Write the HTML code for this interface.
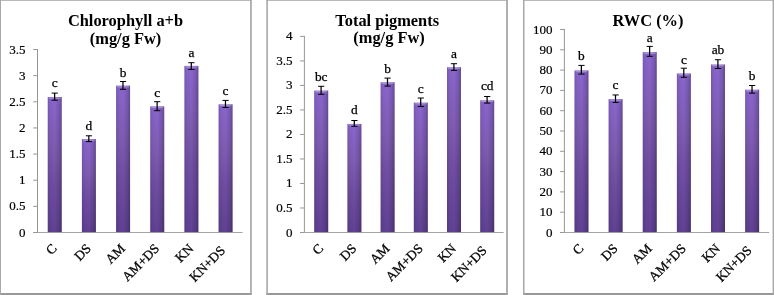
<!DOCTYPE html>
<html><head><meta charset="utf-8"><title>Charts</title>
<style>html,body{margin:0;padding:0;background:#fff}body{width:774px;height:295px;overflow:hidden}</style></head>
<body>
<svg width="774" height="295" viewBox="0 0 774 295" style="display:block">
<defs>
<linearGradient id="bv" x1="0" y1="0" x2="0" y2="1">
<stop offset="0" stop-color="#8a66ce"/>
<stop offset="0.37" stop-color="#7e5cb2"/>
<stop offset="0.6" stop-color="#714fa4"/>
<stop offset="1" stop-color="#604193"/>
</linearGradient>
<linearGradient id="bh" x1="0" y1="0" x2="1" y2="0">
<stop offset="0" stop-color="#000" stop-opacity="0.13"/>
<stop offset="0.2" stop-color="#000" stop-opacity="0.04"/>
<stop offset="0.5" stop-color="#000" stop-opacity="0"/>
<stop offset="0.8" stop-color="#000" stop-opacity="0.12"/>
<stop offset="1" stop-color="#000" stop-opacity="0.27"/>
</linearGradient>
</defs>
<rect width="774" height="295" fill="#fff"/>
<path d="M0 0H251.8V295H0Z" fill="#fff"/>
<rect x="0" y="0" width="251.80" height="0.9" fill="#b2b2b2"/>
<rect x="0" y="293" width="251.80" height="2" fill="#989898"/>
<rect x="0" y="0" width="1.00" height="295" fill="#a8a8a8"/>
<rect x="250.1" y="0" width="1.70" height="295" fill="#a8a8a8"/>
<text x="125.5" y="25.6" text-anchor="middle" font-family="Liberation Serif, serif" font-weight="bold" font-size="16.4" fill="#000">Chlorophyll a+b</text>
<text x="125.5" y="44.1" text-anchor="middle" font-family="Liberation Serif, serif" font-weight="bold" font-size="16.4" fill="#000">(mg/g Fw)</text>
<path d="M37.5 49.0V233.0" fill="none" stroke="#969696" stroke-width="1"/>
<path d="M33.2 232.5H242.5" fill="none" stroke="#a4a4a4" stroke-width="1"/>
<path d="M33.2 232.50H37.5" stroke="#969696" stroke-width="1"/>
<text x="25.6" y="236.50" text-anchor="end" font-family="Liberation Serif, serif" font-size="13.0" stroke="#000" stroke-width="0.2" fill="#000">0</text>
<path d="M33.2 206.36H37.5" stroke="#969696" stroke-width="1"/>
<text x="25.6" y="210.36" text-anchor="end" font-family="Liberation Serif, serif" font-size="13.0" stroke="#000" stroke-width="0.2" fill="#000">0.5</text>
<path d="M33.2 180.21H37.5" stroke="#969696" stroke-width="1"/>
<text x="25.6" y="184.21" text-anchor="end" font-family="Liberation Serif, serif" font-size="13.0" stroke="#000" stroke-width="0.2" fill="#000">1</text>
<path d="M33.2 154.07H37.5" stroke="#969696" stroke-width="1"/>
<text x="25.6" y="158.07" text-anchor="end" font-family="Liberation Serif, serif" font-size="13.0" stroke="#000" stroke-width="0.2" fill="#000">1.5</text>
<path d="M33.2 127.93H37.5" stroke="#969696" stroke-width="1"/>
<text x="25.6" y="131.93" text-anchor="end" font-family="Liberation Serif, serif" font-size="13.0" stroke="#000" stroke-width="0.2" fill="#000">2</text>
<path d="M33.2 101.79H37.5" stroke="#969696" stroke-width="1"/>
<text x="25.6" y="105.79" text-anchor="end" font-family="Liberation Serif, serif" font-size="13.0" stroke="#000" stroke-width="0.2" fill="#000">2.5</text>
<path d="M33.2 75.64H37.5" stroke="#969696" stroke-width="1"/>
<text x="25.6" y="79.64" text-anchor="end" font-family="Liberation Serif, serif" font-size="13.0" stroke="#000" stroke-width="0.2" fill="#000">3</text>
<path d="M33.2 49.50H37.5" stroke="#969696" stroke-width="1"/>
<text x="25.6" y="53.50" text-anchor="end" font-family="Liberation Serif, serif" font-size="13.0" stroke="#000" stroke-width="0.2" fill="#000">3.5</text>
<rect x="47.73" y="97.01" width="14.00" height="135.09" fill="url(#bv)"/>
<rect x="47.73" y="97.01" width="14.00" height="135.09" fill="url(#bh)"/>
<rect x="48.73" y="97.31" width="12.00" height="1.5" fill="#fff" fill-opacity="0.28"/>
<path d="M51.63 93.10h6.2M51.63 100.20h6.2" stroke="#000" stroke-width="1" fill="none"/>
<path d="M54.63 93.10V100.20" stroke="#000" stroke-width="1.25" fill="none"/>
<text x="54.73" y="87.45" text-anchor="middle" font-family="Liberation Serif, serif" font-size="13.4" stroke="#000" stroke-width="0.25" fill="#000">c</text>
<text transform="translate(57.63 249.30) rotate(-45)" text-anchor="end" font-family="Liberation Serif, serif" font-size="13.4" stroke="#000" stroke-width="0.3" fill="#000">C</text>
<rect x="81.90" y="139.10" width="14.00" height="93.00" fill="url(#bv)"/>
<rect x="81.90" y="139.10" width="14.00" height="93.00" fill="url(#bh)"/>
<rect x="82.90" y="139.40" width="12.00" height="1.5" fill="#fff" fill-opacity="0.28"/>
<path d="M85.80 135.80h6.2M85.80 141.60h6.2" stroke="#000" stroke-width="1" fill="none"/>
<path d="M88.80 135.80V141.60" stroke="#000" stroke-width="1.25" fill="none"/>
<text x="88.90" y="129.95" text-anchor="middle" font-family="Liberation Serif, serif" font-size="13.4" stroke="#000" stroke-width="0.25" fill="#000">d</text>
<text transform="translate(91.80 249.30) rotate(-45)" text-anchor="end" font-family="Liberation Serif, serif" font-size="13.4" stroke="#000" stroke-width="0.3" fill="#000">DS</text>
<rect x="116.07" y="85.62" width="14.00" height="146.48" fill="url(#bv)"/>
<rect x="116.07" y="85.62" width="14.00" height="146.48" fill="url(#bh)"/>
<rect x="117.07" y="85.92" width="12.00" height="1.5" fill="#fff" fill-opacity="0.28"/>
<path d="M119.97 81.50h6.2M119.97 89.30h6.2" stroke="#000" stroke-width="1" fill="none"/>
<path d="M122.97 81.50V89.30" stroke="#000" stroke-width="1.25" fill="none"/>
<text x="123.07" y="76.50" text-anchor="middle" font-family="Liberation Serif, serif" font-size="13.4" stroke="#000" stroke-width="0.25" fill="#000">b</text>
<text transform="translate(125.97 249.30) rotate(-45)" text-anchor="end" font-family="Liberation Serif, serif" font-size="13.4" stroke="#000" stroke-width="0.3" fill="#000">AM</text>
<rect x="150.23" y="106.37" width="14.00" height="125.73" fill="url(#bv)"/>
<rect x="150.23" y="106.37" width="14.00" height="125.73" fill="url(#bh)"/>
<rect x="151.23" y="106.67" width="12.00" height="1.5" fill="#fff" fill-opacity="0.28"/>
<path d="M154.13 101.70h6.2M154.13 110.70h6.2" stroke="#000" stroke-width="1" fill="none"/>
<path d="M157.13 101.70V110.70" stroke="#000" stroke-width="1.25" fill="none"/>
<text x="157.23" y="97.40" text-anchor="middle" font-family="Liberation Serif, serif" font-size="13.4" stroke="#000" stroke-width="0.25" fill="#000">c</text>
<text transform="translate(160.13 249.30) rotate(-45)" text-anchor="end" font-family="Liberation Serif, serif" font-size="13.4" stroke="#000" stroke-width="0.3" fill="#000">AM+DS</text>
<rect x="184.40" y="65.90" width="14.00" height="166.20" fill="url(#bv)"/>
<rect x="184.40" y="65.90" width="14.00" height="166.20" fill="url(#bh)"/>
<rect x="185.40" y="66.20" width="12.00" height="1.5" fill="#fff" fill-opacity="0.28"/>
<path d="M188.30 62.70h6.2M188.30 69.50h6.2" stroke="#000" stroke-width="1" fill="none"/>
<path d="M191.30 62.70V69.50" stroke="#000" stroke-width="1.25" fill="none"/>
<text x="191.40" y="56.75" text-anchor="middle" font-family="Liberation Serif, serif" font-size="13.4" stroke="#000" stroke-width="0.25" fill="#000">a</text>
<text transform="translate(194.30 249.30) rotate(-45)" text-anchor="end" font-family="Liberation Serif, serif" font-size="13.4" stroke="#000" stroke-width="0.3" fill="#000">KN</text>
<rect x="218.57" y="104.33" width="14.00" height="127.77" fill="url(#bv)"/>
<rect x="218.57" y="104.33" width="14.00" height="127.77" fill="url(#bh)"/>
<rect x="219.57" y="104.63" width="12.00" height="1.5" fill="#fff" fill-opacity="0.28"/>
<path d="M222.47 100.40h6.2M222.47 107.50h6.2" stroke="#000" stroke-width="1" fill="none"/>
<path d="M225.47 100.40V107.50" stroke="#000" stroke-width="1.25" fill="none"/>
<text x="225.57" y="95.40" text-anchor="middle" font-family="Liberation Serif, serif" font-size="13.4" stroke="#000" stroke-width="0.25" fill="#000">c</text>
<text transform="translate(225.97 251.30) rotate(-45)" text-anchor="end" font-family="Liberation Serif, serif" font-size="13.4" stroke="#000" stroke-width="0.3" fill="#000">KN+DS</text>
<path d="M266.3 0H507.9V295H266.3Z" fill="#fff"/>
<rect x="266.3" y="0" width="241.60" height="0.9" fill="#b2b2b2"/>
<rect x="266.3" y="293" width="241.60" height="2" fill="#989898"/>
<rect x="266.3" y="0" width="1.60" height="295" fill="#a8a8a8"/>
<rect x="506.1" y="0" width="1.80" height="295" fill="#a8a8a8"/>
<text x="387.2" y="25.9" text-anchor="middle" font-family="Liberation Serif, serif" font-weight="bold" font-size="16.4" fill="#000">Total pigments</text>
<text x="389" y="43.4" text-anchor="middle" font-family="Liberation Serif, serif" font-weight="bold" font-size="16.4" fill="#000">(mg/g Fw)</text>
<path d="M304.4 35.9V233.0" fill="none" stroke="#969696" stroke-width="1"/>
<path d="M300.09999999999997 232.5H503.6" fill="none" stroke="#a4a4a4" stroke-width="1"/>
<path d="M300.09999999999997 232.50H304.4" stroke="#969696" stroke-width="1"/>
<text x="292.5" y="236.50" text-anchor="end" font-family="Liberation Serif, serif" font-size="13.0" stroke="#000" stroke-width="0.2" fill="#000">0</text>
<path d="M300.09999999999997 207.99H304.4" stroke="#969696" stroke-width="1"/>
<text x="292.5" y="211.99" text-anchor="end" font-family="Liberation Serif, serif" font-size="13.0" stroke="#000" stroke-width="0.2" fill="#000">0.5</text>
<path d="M300.09999999999997 183.47H304.4" stroke="#969696" stroke-width="1"/>
<text x="292.5" y="187.47" text-anchor="end" font-family="Liberation Serif, serif" font-size="13.0" stroke="#000" stroke-width="0.2" fill="#000">1</text>
<path d="M300.09999999999997 158.96H304.4" stroke="#969696" stroke-width="1"/>
<text x="292.5" y="162.96" text-anchor="end" font-family="Liberation Serif, serif" font-size="13.0" stroke="#000" stroke-width="0.2" fill="#000">1.5</text>
<path d="M300.09999999999997 134.45H304.4" stroke="#969696" stroke-width="1"/>
<text x="292.5" y="138.45" text-anchor="end" font-family="Liberation Serif, serif" font-size="13.0" stroke="#000" stroke-width="0.2" fill="#000">2</text>
<path d="M300.09999999999997 109.94H304.4" stroke="#969696" stroke-width="1"/>
<text x="292.5" y="113.94" text-anchor="end" font-family="Liberation Serif, serif" font-size="13.0" stroke="#000" stroke-width="0.2" fill="#000">2.5</text>
<path d="M300.09999999999997 85.43H304.4" stroke="#969696" stroke-width="1"/>
<text x="292.5" y="89.43" text-anchor="end" font-family="Liberation Serif, serif" font-size="13.0" stroke="#000" stroke-width="0.2" fill="#000">3</text>
<path d="M300.09999999999997 60.91H304.4" stroke="#969696" stroke-width="1"/>
<text x="292.5" y="64.91" text-anchor="end" font-family="Liberation Serif, serif" font-size="13.0" stroke="#000" stroke-width="0.2" fill="#000">3.5</text>
<path d="M300.09999999999997 36.40H304.4" stroke="#969696" stroke-width="1"/>
<text x="292.5" y="40.40" text-anchor="end" font-family="Liberation Serif, serif" font-size="13.0" stroke="#000" stroke-width="0.2" fill="#000">4</text>
<rect x="314.20" y="90.58" width="14.00" height="141.52" fill="url(#bv)"/>
<rect x="314.20" y="90.58" width="14.00" height="141.52" fill="url(#bh)"/>
<rect x="315.20" y="90.88" width="12.00" height="1.5" fill="#fff" fill-opacity="0.28"/>
<path d="M318.10 86.30h6.2M318.10 94.30h6.2" stroke="#000" stroke-width="1" fill="none"/>
<path d="M321.10 86.30V94.30" stroke="#000" stroke-width="1.25" fill="none"/>
<text x="321.20" y="81.30" text-anchor="middle" font-family="Liberation Serif, serif" font-size="13.4" stroke="#000" stroke-width="0.25" fill="#000">bc</text>
<text transform="translate(324.10 249.30) rotate(-45)" text-anchor="end" font-family="Liberation Serif, serif" font-size="13.4" stroke="#000" stroke-width="0.3" fill="#000">C</text>
<rect x="347.40" y="123.92" width="14.00" height="108.18" fill="url(#bv)"/>
<rect x="347.40" y="123.92" width="14.00" height="108.18" fill="url(#bh)"/>
<rect x="348.40" y="124.22" width="12.00" height="1.5" fill="#fff" fill-opacity="0.28"/>
<path d="M351.30 120.50h6.2M351.30 126.30h6.2" stroke="#000" stroke-width="1" fill="none"/>
<path d="M354.30 120.50V126.30" stroke="#000" stroke-width="1.25" fill="none"/>
<text x="354.40" y="114.20" text-anchor="middle" font-family="Liberation Serif, serif" font-size="13.4" stroke="#000" stroke-width="0.25" fill="#000">d</text>
<text transform="translate(357.30 249.30) rotate(-45)" text-anchor="end" font-family="Liberation Serif, serif" font-size="13.4" stroke="#000" stroke-width="0.3" fill="#000">DS</text>
<rect x="380.60" y="82.29" width="14.00" height="149.81" fill="url(#bv)"/>
<rect x="380.60" y="82.29" width="14.00" height="149.81" fill="url(#bh)"/>
<rect x="381.60" y="82.59" width="12.00" height="1.5" fill="#fff" fill-opacity="0.28"/>
<path d="M384.50 78.10h6.2M384.50 86.10h6.2" stroke="#000" stroke-width="1" fill="none"/>
<path d="M387.50 78.10V86.10" stroke="#000" stroke-width="1.25" fill="none"/>
<text x="387.60" y="73.10" text-anchor="middle" font-family="Liberation Serif, serif" font-size="13.4" stroke="#000" stroke-width="0.25" fill="#000">b</text>
<text transform="translate(390.50 249.30) rotate(-45)" text-anchor="end" font-family="Liberation Serif, serif" font-size="13.4" stroke="#000" stroke-width="0.3" fill="#000">AM</text>
<rect x="413.80" y="102.64" width="14.00" height="129.46" fill="url(#bv)"/>
<rect x="413.80" y="102.64" width="14.00" height="129.46" fill="url(#bh)"/>
<rect x="414.80" y="102.94" width="12.00" height="1.5" fill="#fff" fill-opacity="0.28"/>
<path d="M417.70 98.00h6.2M417.70 106.55h6.2" stroke="#000" stroke-width="1" fill="none"/>
<path d="M420.70 98.00V106.55" stroke="#000" stroke-width="1.25" fill="none"/>
<text x="420.80" y="93.10" text-anchor="middle" font-family="Liberation Serif, serif" font-size="13.4" stroke="#000" stroke-width="0.25" fill="#000">c</text>
<text transform="translate(423.70 249.30) rotate(-45)" text-anchor="end" font-family="Liberation Serif, serif" font-size="13.4" stroke="#000" stroke-width="0.3" fill="#000">AM+DS</text>
<rect x="447.00" y="67.24" width="14.00" height="164.86" fill="url(#bv)"/>
<rect x="447.00" y="67.24" width="14.00" height="164.86" fill="url(#bh)"/>
<rect x="448.00" y="67.54" width="12.00" height="1.5" fill="#fff" fill-opacity="0.28"/>
<path d="M450.90 63.70h6.2M450.90 70.40h6.2" stroke="#000" stroke-width="1" fill="none"/>
<path d="M453.90 63.70V70.40" stroke="#000" stroke-width="1.25" fill="none"/>
<text x="454.00" y="57.70" text-anchor="middle" font-family="Liberation Serif, serif" font-size="13.4" stroke="#000" stroke-width="0.25" fill="#000">a</text>
<text transform="translate(456.90 249.30) rotate(-45)" text-anchor="end" font-family="Liberation Serif, serif" font-size="13.4" stroke="#000" stroke-width="0.3" fill="#000">KN</text>
<rect x="480.20" y="100.33" width="14.00" height="131.77" fill="url(#bv)"/>
<rect x="480.20" y="100.33" width="14.00" height="131.77" fill="url(#bh)"/>
<rect x="481.20" y="100.63" width="12.00" height="1.5" fill="#fff" fill-opacity="0.28"/>
<path d="M484.10 96.50h6.2M484.10 103.10h6.2" stroke="#000" stroke-width="1" fill="none"/>
<path d="M487.10 96.50V103.10" stroke="#000" stroke-width="1.25" fill="none"/>
<text x="487.20" y="90.40" text-anchor="middle" font-family="Liberation Serif, serif" font-size="13.4" stroke="#000" stroke-width="0.25" fill="#000">cd</text>
<text transform="translate(487.60 251.30) rotate(-45)" text-anchor="end" font-family="Liberation Serif, serif" font-size="13.4" stroke="#000" stroke-width="0.3" fill="#000">KN+DS</text>
<path d="M523.0 0H774V295H523.0Z" fill="#fff"/>
<rect x="523.0" y="0" width="251.00" height="0.9" fill="#b2b2b2"/>
<rect x="523.0" y="293" width="251.00" height="2" fill="#989898"/>
<rect x="523.0" y="0" width="1.50" height="295" fill="#a8a8a8"/>
<rect x="772.6" y="0" width="1.40" height="295" fill="#a8a8a8"/>
<text x="648.0" y="25.6" text-anchor="middle" font-family="Liberation Serif, serif" font-weight="bold" font-size="16.4" fill="#000">RWC (%)</text>
<path d="M564.4 29.0V233.0" fill="none" stroke="#969696" stroke-width="1"/>
<path d="M560.1 232.5H769.2" fill="none" stroke="#a4a4a4" stroke-width="1"/>
<path d="M560.1 232.50H564.4" stroke="#969696" stroke-width="1"/>
<text x="552.5" y="236.50" text-anchor="end" font-family="Liberation Serif, serif" font-size="13.0" stroke="#000" stroke-width="0.2" fill="#000">0</text>
<path d="M560.1 212.20H564.4" stroke="#969696" stroke-width="1"/>
<text x="552.5" y="216.20" text-anchor="end" font-family="Liberation Serif, serif" font-size="13.0" stroke="#000" stroke-width="0.2" fill="#000">10</text>
<path d="M560.1 191.90H564.4" stroke="#969696" stroke-width="1"/>
<text x="552.5" y="195.90" text-anchor="end" font-family="Liberation Serif, serif" font-size="13.0" stroke="#000" stroke-width="0.2" fill="#000">20</text>
<path d="M560.1 171.60H564.4" stroke="#969696" stroke-width="1"/>
<text x="552.5" y="175.60" text-anchor="end" font-family="Liberation Serif, serif" font-size="13.0" stroke="#000" stroke-width="0.2" fill="#000">30</text>
<path d="M560.1 151.30H564.4" stroke="#969696" stroke-width="1"/>
<text x="552.5" y="155.30" text-anchor="end" font-family="Liberation Serif, serif" font-size="13.0" stroke="#000" stroke-width="0.2" fill="#000">40</text>
<path d="M560.1 131.00H564.4" stroke="#969696" stroke-width="1"/>
<text x="552.5" y="135.00" text-anchor="end" font-family="Liberation Serif, serif" font-size="13.0" stroke="#000" stroke-width="0.2" fill="#000">50</text>
<path d="M560.1 110.70H564.4" stroke="#969696" stroke-width="1"/>
<text x="552.5" y="114.70" text-anchor="end" font-family="Liberation Serif, serif" font-size="13.0" stroke="#000" stroke-width="0.2" fill="#000">60</text>
<path d="M560.1 90.40H564.4" stroke="#969696" stroke-width="1"/>
<text x="552.5" y="94.40" text-anchor="end" font-family="Liberation Serif, serif" font-size="13.0" stroke="#000" stroke-width="0.2" fill="#000">70</text>
<path d="M560.1 70.10H564.4" stroke="#969696" stroke-width="1"/>
<text x="552.5" y="74.10" text-anchor="end" font-family="Liberation Serif, serif" font-size="13.0" stroke="#000" stroke-width="0.2" fill="#000">80</text>
<path d="M560.1 49.80H564.4" stroke="#969696" stroke-width="1"/>
<text x="552.5" y="53.80" text-anchor="end" font-family="Liberation Serif, serif" font-size="13.0" stroke="#000" stroke-width="0.2" fill="#000">90</text>
<path d="M560.1 29.50H564.4" stroke="#969696" stroke-width="1"/>
<text x="552.5" y="33.50" text-anchor="end" font-family="Liberation Serif, serif" font-size="13.0" stroke="#000" stroke-width="0.2" fill="#000">100</text>
<rect x="574.47" y="70.40" width="14.00" height="161.70" fill="url(#bv)"/>
<rect x="574.47" y="70.40" width="14.00" height="161.70" fill="url(#bh)"/>
<rect x="575.47" y="70.70" width="12.00" height="1.5" fill="#fff" fill-opacity="0.28"/>
<path d="M578.37 65.40h6.2M578.37 74.10h6.2" stroke="#000" stroke-width="1" fill="none"/>
<path d="M581.37 65.40V74.10" stroke="#000" stroke-width="1.25" fill="none"/>
<text x="581.47" y="60.20" text-anchor="middle" font-family="Liberation Serif, serif" font-size="13.4" stroke="#000" stroke-width="0.25" fill="#000">b</text>
<text transform="translate(584.37 249.30) rotate(-45)" text-anchor="end" font-family="Liberation Serif, serif" font-size="13.4" stroke="#000" stroke-width="0.3" fill="#000">C</text>
<rect x="608.60" y="99.12" width="14.00" height="132.98" fill="url(#bv)"/>
<rect x="608.60" y="99.12" width="14.00" height="132.98" fill="url(#bh)"/>
<rect x="609.60" y="99.42" width="12.00" height="1.5" fill="#fff" fill-opacity="0.28"/>
<path d="M612.50 94.96h6.2M612.50 102.40h6.2" stroke="#000" stroke-width="1" fill="none"/>
<path d="M615.50 94.96V102.40" stroke="#000" stroke-width="1.25" fill="none"/>
<text x="615.60" y="89.30" text-anchor="middle" font-family="Liberation Serif, serif" font-size="13.4" stroke="#000" stroke-width="0.25" fill="#000">c</text>
<text transform="translate(618.50 249.30) rotate(-45)" text-anchor="end" font-family="Liberation Serif, serif" font-size="13.4" stroke="#000" stroke-width="0.3" fill="#000">DS</text>
<rect x="642.73" y="52.13" width="14.00" height="179.97" fill="url(#bv)"/>
<rect x="642.73" y="52.13" width="14.00" height="179.97" fill="url(#bh)"/>
<rect x="643.73" y="52.43" width="12.00" height="1.5" fill="#fff" fill-opacity="0.28"/>
<path d="M646.63 46.40h6.2M646.63 56.30h6.2" stroke="#000" stroke-width="1" fill="none"/>
<path d="M649.63 46.40V56.30" stroke="#000" stroke-width="1.25" fill="none"/>
<text x="649.73" y="42.05" text-anchor="middle" font-family="Liberation Serif, serif" font-size="13.4" stroke="#000" stroke-width="0.25" fill="#000">a</text>
<text transform="translate(652.63 249.30) rotate(-45)" text-anchor="end" font-family="Liberation Serif, serif" font-size="13.4" stroke="#000" stroke-width="0.3" fill="#000">AM</text>
<rect x="676.87" y="73.45" width="14.00" height="158.65" fill="url(#bv)"/>
<rect x="676.87" y="73.45" width="14.00" height="158.65" fill="url(#bh)"/>
<rect x="677.87" y="73.75" width="12.00" height="1.5" fill="#fff" fill-opacity="0.28"/>
<path d="M680.77 68.20h6.2M680.77 77.30h6.2" stroke="#000" stroke-width="1" fill="none"/>
<path d="M683.77 68.20V77.30" stroke="#000" stroke-width="1.25" fill="none"/>
<text x="683.87" y="63.50" text-anchor="middle" font-family="Liberation Serif, serif" font-size="13.4" stroke="#000" stroke-width="0.25" fill="#000">c</text>
<text transform="translate(686.77 249.30) rotate(-45)" text-anchor="end" font-family="Liberation Serif, serif" font-size="13.4" stroke="#000" stroke-width="0.3" fill="#000">AM+DS</text>
<rect x="711.00" y="64.51" width="14.00" height="167.59" fill="url(#bv)"/>
<rect x="711.00" y="64.51" width="14.00" height="167.59" fill="url(#bh)"/>
<rect x="712.00" y="64.81" width="12.00" height="1.5" fill="#fff" fill-opacity="0.28"/>
<path d="M714.90 59.74h6.2M714.90 68.47h6.2" stroke="#000" stroke-width="1" fill="none"/>
<path d="M717.90 59.74V68.47" stroke="#000" stroke-width="1.25" fill="none"/>
<text x="718.00" y="54.30" text-anchor="middle" font-family="Liberation Serif, serif" font-size="13.4" stroke="#000" stroke-width="0.25" fill="#000">ab</text>
<text transform="translate(720.90 249.30) rotate(-45)" text-anchor="end" font-family="Liberation Serif, serif" font-size="13.4" stroke="#000" stroke-width="0.3" fill="#000">KN</text>
<rect x="745.13" y="89.69" width="14.00" height="142.41" fill="url(#bv)"/>
<rect x="745.13" y="89.69" width="14.00" height="142.41" fill="url(#bh)"/>
<rect x="746.13" y="89.99" width="12.00" height="1.5" fill="#fff" fill-opacity="0.28"/>
<path d="M749.03 85.50h6.2M749.03 93.15h6.2" stroke="#000" stroke-width="1" fill="none"/>
<path d="M752.03 85.50V93.15" stroke="#000" stroke-width="1.25" fill="none"/>
<text x="752.13" y="79.90" text-anchor="middle" font-family="Liberation Serif, serif" font-size="13.4" stroke="#000" stroke-width="0.25" fill="#000">b</text>
<text transform="translate(752.53 251.30) rotate(-45)" text-anchor="end" font-family="Liberation Serif, serif" font-size="13.4" stroke="#000" stroke-width="0.3" fill="#000">KN+DS</text>
</svg>
</body></html>
